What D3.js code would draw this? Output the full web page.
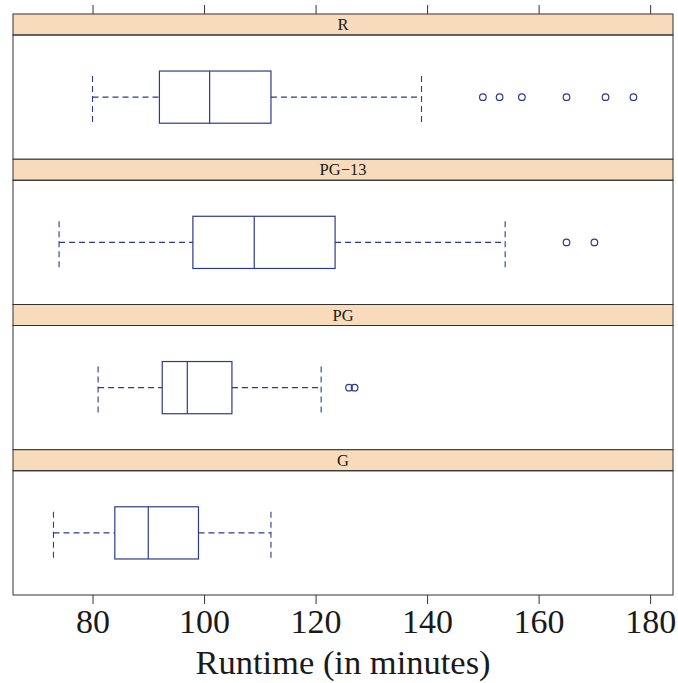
<!DOCTYPE html>
<html>
<head>
<meta charset="utf-8">
<script src="https://cdn.jsdelivr.net/npm/d3@7"></script>
<style>
  body { margin: 0; background: #fff; }
  svg text { font-family: 'Liberation Serif', 'Times New Roman', Times, 'DejaVu Serif', serif; fill: #1a1a1a; }
</style>
</head>
<body>
<div id="plot"></div>
<script>
// Data: ratings (top to bottom) and box statistics
let ratings = ['R', 'PG\u221213', 'PG', 'G']
let lowWhisker = [80, 74, 81, 73]
let q1 = [92, 98, 92.5, 84]
let median = [101, 109, 97, 90]
let q3 = [112, 123.5, 105, 99]
let highWhisker = [139, 154, 121, 112]
let outliers = [
  [150, 153, 157, 165, 172, 177],
  [165, 170],
  [126, 127],
  []
]
let tickValues = [80, 100, 120, 140, 160, 180]

// Plot constants
let width = 678
let height = 683
let margin = {t: 14, r: 5, b: 88, l: 13}
let stripH = 21
let boxColor = '#2d3b8c'
let frameColor = '#333333'
let serif = "'Liberation Serif', 'Times New Roman', Times, 'DejaVu Serif', serif"

let svg = d3.select('#plot')
  .append('svg')
  .attr('width', width)
  .attr('height', height)
  .attr('font-family', serif)

let x = d3.scaleLinear()
  .domain([65.74, 184.1])
  .range([margin.l, width - margin.r])

let panelBand = d3.scaleBand()
  .domain(ratings)
  .range([margin.t, height - margin.b])
  .padding(0)

let bandH = panelBand.bandwidth()
let plotH = bandH - stripH
let boxH = plotH * 0.42

ratings.forEach(function(r, i){
  let top = panelBand(r)
  let g = svg.append('g').attr('transform', `translate(0,${top})`)
  let cy = stripH + plotH / 2

  // strip
  g.append('rect')
    .attr('x', x.range()[0])
    .attr('y', 0)
    .attr('width', x.range()[1] - x.range()[0])
    .attr('height', stripH)
    .style('fill', '#f8dbbb')
    .style('stroke', frameColor)
    .style('stroke-width', 1)

  g.append('text')
    .attr('x', (x.range()[0] + x.range()[1]) / 2)
    .attr('y', stripH / 2 + 5.5)
    .attr('text-anchor', 'middle')
    .style('font-family', serif)
    .style('font-size', '16.5px')
    .text(r)

  // panel
  g.append('rect')
    .attr('x', x.range()[0])
    .attr('y', stripH)
    .attr('width', x.range()[1] - x.range()[0])
    .attr('height', plotH)
    .style('fill', 'none')
    .style('stroke', frameColor)
    .style('stroke-width', 1)

  // whiskers
  let dashed = [[lowWhisker[i], q1[i]], [q3[i], highWhisker[i]]]
  g.selectAll('.whisker')
    .data(dashed)
    .enter().append('line')
    .attr('x1', function(d){ return x(d[0]) })
    .attr('x2', function(d){ return x(d[1]) })
    .attr('y1', cy)
    .attr('y2', cy)
    .style('stroke', boxColor)
    .style('stroke-width', 1.1)
    .style('stroke-dasharray', '6,4')

  g.selectAll('.cap')
    .data([lowWhisker[i], highWhisker[i]])
    .enter().append('line')
    .attr('x1', function(d){ return x(d) })
    .attr('x2', function(d){ return x(d) })
    .attr('y1', cy - boxH / 2 + 5)
    .attr('y2', cy + boxH / 2)
    .style('stroke', boxColor)
    .style('stroke-width', 1.1)
    .style('stroke-dasharray', '6,4')

  // box
  g.append('rect')
    .attr('x', x(q1[i]))
    .attr('y', cy - boxH / 2)
    .attr('width', x(q3[i]) - x(q1[i]))
    .attr('height', boxH)
    .style('fill', 'none')
    .style('stroke', boxColor)
    .style('stroke-width', 1.2)

  g.append('line')
    .attr('x1', x(median[i]))
    .attr('x2', x(median[i]))
    .attr('y1', cy - boxH / 2)
    .attr('y2', cy + boxH / 2)
    .style('stroke', boxColor)
    .style('stroke-width', 1.2)

  // outliers
  g.selectAll('circle')
    .data(outliers[i])
    .enter().append('circle')
    .attr('cx', function(d){ return x(d) })
    .attr('cy', cy)
    .attr('r', 3.3)
    .style('fill', 'none')
    .style('stroke', boxColor)
    .style('stroke-width', 1.2)
})

// axes
let topAxis = d3.axisTop(x)
  .tickValues(tickValues)
  .tickSize(9)
  .tickSizeOuter(0)
  .tickFormat('')

svg.append('g')
  .attr('transform', `translate(0,${margin.t})`)
  .call(topAxis)
  .call(function(g){ g.select('.domain').remove() })

let bottomAxis = d3.axisBottom(x)
  .tickValues(tickValues)
  .tickSize(9)
  .tickSizeOuter(0)
  .tickPadding(5)

let bAxis = svg.append('g')
  .attr('transform', `translate(0,${height - margin.b})`)
  .attr('font-family', serif)
  .call(bottomAxis)
bAxis.select('.domain').remove()
bAxis.selectAll('text')
  .style('font-family', serif)
  .style('font-size', '34px')
  .style('fill', '#1a1a1a')
svg.selectAll('.tick line').style('stroke', frameColor)

svg.append('text')
  .attr('x', (x.range()[0] + x.range()[1]) / 2)
  .attr('y', 674)
  .attr('text-anchor', 'middle')
  .style('font-family', serif)
  .style('font-size', '34.5px')
  .text('Runtime (in minutes)')
</script>
</body>
</html>
